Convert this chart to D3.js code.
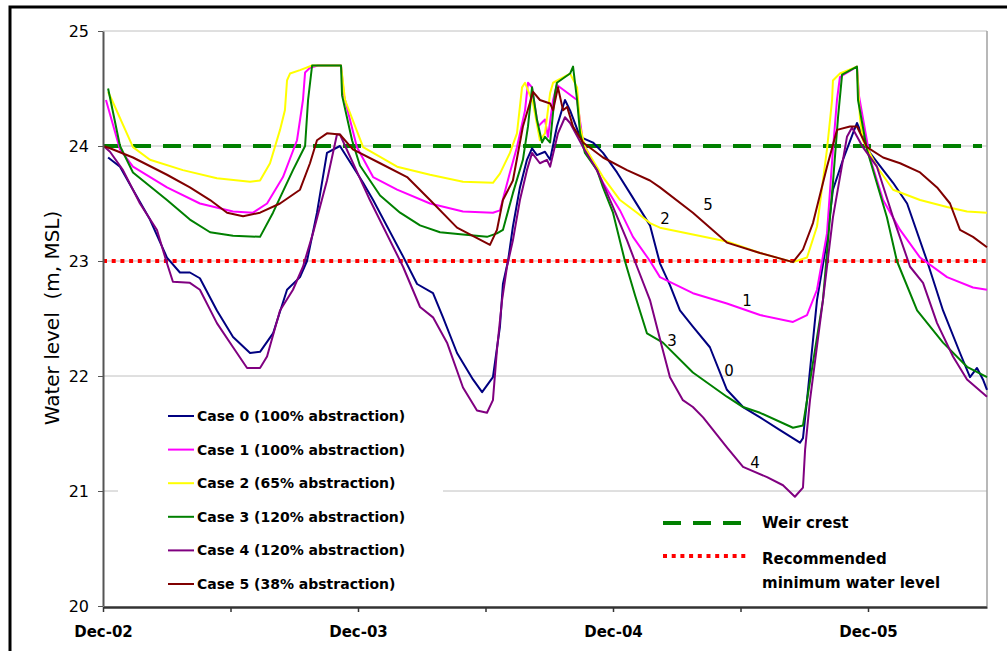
<!DOCTYPE html>
<html>
<head>
<meta charset="utf-8">
<script src="https://cdn.jsdelivr.net/npm/d3@7"></script>
<style>
  body { margin: 0; background: #fff; }
  text { font-family: "DejaVu Sans", Verdana, sans-serif; }
</style>
</head>
<body>
<div id="chart"></div>
<script>
// months counted from Dec-02, water level in m MSL
const case0 = [[0.24,23.9],[0.8,23.82],[1.41,23.62],[2.21,23.36],[3.01,23.03],[3.62,22.9],[4.09,22.9],[4.56,22.85],[5.36,22.57],[6.12,22.34],[6.92,22.2],[7.39,22.21],[8.0,22.37],[8.66,22.75],[9.27,22.86],[9.6,23.0],[10.07,23.42],[10.54,23.94],[11.15,24.0],[12.24,23.68],[12.71,23.53],[14.12,23.04],[14.78,22.8],[15.53,22.72],[16.0,22.51],[16.66,22.2],[17.41,21.97],[17.84,21.86],[18.35,21.99],[18.68,22.43],[18.82,22.8],[19.06,23.0],[19.29,23.3],[19.62,23.64],[19.95,23.88],[20.19,23.98],[20.42,23.92],[20.8,23.95],[21.04,23.88],[21.36,24.17],[21.74,24.4],[21.98,24.31],[22.45,24.08],[23.06,24.03],[23.53,23.94],[24.19,23.77],[24.8,23.59],[25.74,23.31],[26.21,22.98],[26.68,22.79],[27.15,22.57],[27.76,22.43],[28.56,22.25],[29.36,21.88],[30.12,21.73],[30.92,21.64],[31.86,21.53],[32.8,21.42],[32.94,21.46],[33.13,21.79],[33.6,22.66],[34.07,23.18],[34.35,23.62],[34.82,23.88],[35.29,24.11],[35.48,24.2],[36.09,23.94],[37.18,23.68],[37.84,23.5],[38.78,23.0],[39.53,22.57],[40.33,22.2],[40.8,21.99],[41.13,22.07],[41.41,21.97],[41.6,21.88]]

const case1 = [[0.14,24.4],[0.8,23.97],[1.41,23.82],[3.01,23.64],[4.56,23.5],[6.12,23.43],[7.06,23.42],[7.72,23.5],[8.47,23.73],[9.13,24.05],[9.41,24.4],[9.51,24.64],[9.74,24.68],[10.12,24.7],[11.2,24.7],[11.34,24.44],[11.62,24.23],[11.95,23.99],[12.71,23.73],[13.84,23.62],[15.39,23.5],[16.94,23.43],[18.35,23.42],[18.68,23.44],[19.15,23.77],[19.48,23.99],[19.86,24.31],[20.0,24.55],[20.19,24.51],[20.47,24.17],[20.8,24.23],[20.94,24.08],[21.18,24.4],[21.36,24.53],[22.31,24.4],[22.59,24.03],[23.53,23.68],[24.33,23.44],[24.94,23.21],[25.74,23.0],[26.21,22.86],[27.76,22.72],[29.36,22.63],[30.92,22.53],[32.47,22.47],[33.13,22.53],[33.6,22.75],[34.07,23.24],[34.35,23.97],[34.54,24.4],[34.68,24.6],[35.48,24.69],[35.58,24.43],[36.09,23.9],[36.71,23.53],[37.51,23.27],[38.45,23.03],[39.72,22.86],[40.94,22.77],[41.6,22.75]]

const case2 = [[0.24,24.47],[0.42,24.4],[1.41,23.99],[2.21,23.88],[3.76,23.79],[5.36,23.72],[6.92,23.69],[7.39,23.7],[7.86,23.85],[8.33,24.14],[8.56,24.31],[8.66,24.57],[8.8,24.63],[9.27,24.66],[9.84,24.7],[11.2,24.7],[11.39,24.4],[12.24,23.99],[13.84,23.82],[15.39,23.75],[16.94,23.69],[18.35,23.68],[18.68,23.76],[19.15,23.94],[19.48,24.11],[19.72,24.51],[19.86,24.55],[20.24,24.37],[20.56,24.05],[20.8,24.11],[21.04,24.46],[21.18,24.55],[21.98,24.63],[22.31,24.51],[22.45,24.17],[22.68,23.99],[23.53,23.73],[24.33,23.53],[25.13,23.42],[25.74,23.33],[26.21,23.29],[27.76,23.23],[29.36,23.17],[30.92,23.07],[32.47,22.99],[33.13,23.03],[33.6,23.3],[34.07,23.97],[34.31,24.4],[34.35,24.57],[34.68,24.63],[35.48,24.69],[35.62,24.25],[35.76,24.05],[36.42,23.82],[37.18,23.62],[38.45,23.53],[39.72,23.47],[40.66,23.43],[41.6,23.42]]

const case3 = [[0.24,24.5],[0.8,24.0],[1.41,23.77],[3.01,23.53],[4.09,23.36],[5.04,23.25],[6.12,23.22],[7.39,23.21],[8.0,23.42],[8.94,23.79],[9.51,24.0],[9.65,24.4],[9.84,24.7],[11.2,24.7],[11.25,24.44],[11.72,24.05],[12.09,23.83],[13.04,23.57],[13.98,23.42],[14.92,23.31],[15.86,23.25],[16.94,23.23],[18.07,23.21],[18.54,23.24],[18.82,23.27],[19.29,23.59],[19.76,23.88],[20.0,24.17],[20.19,24.51],[20.42,24.23],[20.66,24.03],[20.8,24.08],[21.04,24.03],[21.27,24.46],[21.36,24.55],[21.98,24.63],[22.12,24.69],[22.31,24.4],[22.45,24.11],[22.68,23.94],[23.25,23.79],[23.53,23.64],[24.0,23.42],[24.56,23.0],[25.04,22.7],[25.6,22.37],[26.35,22.29],[27.76,22.03],[29.36,21.82],[30.12,21.73],[30.92,21.68],[32.47,21.55],[32.94,21.57],[33.13,21.79],[33.88,22.66],[34.35,23.68],[34.59,24.25],[34.78,24.62],[35.48,24.69],[35.53,24.4],[35.95,23.97],[36.89,23.38],[37.36,23.0],[38.31,22.57],[39.53,22.29],[40.66,22.08],[41.6,21.99]]

const case4 = [[0.09,23.99],[0.33,23.95],[0.94,23.79],[1.74,23.5],[2.54,23.27],[3.01,22.98],[3.29,22.82],[4.09,22.81],[4.56,22.75],[5.36,22.46],[6.12,22.25],[6.78,22.07],[7.39,22.07],[7.72,22.17],[8.33,22.57],[8.94,22.75],[9.41,22.95],[9.88,23.24],[10.54,23.7],[11.01,24.1],[11.15,24.1],[12.56,23.53],[14.12,22.95],[14.92,22.6],[15.53,22.51],[16.19,22.29],[16.94,21.9],[17.6,21.7],[18.07,21.68],[18.35,21.79],[18.54,22.23],[18.78,22.66],[19.01,22.95],[19.29,23.18],[19.62,23.53],[19.95,23.79],[20.19,23.94],[20.56,23.85],[20.89,23.88],[21.04,23.82],[21.41,24.11],[21.74,24.25],[21.98,24.2],[22.59,23.99],[23.25,23.79],[24.0,23.47],[24.66,23.18],[25.13,22.95],[25.74,22.66],[26.31,22.25],[26.68,21.99],[27.29,21.79],[27.76,21.73],[28.24,21.64],[29.36,21.38],[30.12,21.21],[31.25,21.12],[32.0,21.05],[32.56,20.95],[32.94,21.03],[33.04,21.36],[33.27,21.79],[33.88,22.66],[34.35,23.38],[34.68,23.73],[35.01,24.08],[35.25,24.16],[35.76,23.99],[36.42,23.82],[37.18,23.38],[37.98,22.95],[38.59,22.81],[39.25,22.46],[40.0,22.17],[40.66,21.97],[41.6,21.82]]

const case5 = [[0.0,24.0],[0.33,23.98],[1.41,23.9],[3.01,23.75],[4.09,23.64],[5.04,23.53],[5.84,23.42],[6.59,23.39],[7.39,23.42],[8.33,23.5],[9.27,23.62],[9.74,23.85],[10.07,24.05],[10.54,24.11],[11.15,24.1],[11.76,23.97],[13.04,23.85],[14.31,23.73],[15.39,23.53],[16.66,23.29],[18.21,23.14],[18.54,23.27],[18.82,23.53],[19.29,23.7],[19.76,24.17],[20.24,24.47],[20.56,24.4],[21.04,24.37],[21.18,24.31],[21.41,24.51],[21.65,24.31],[21.84,24.34],[22.12,24.17],[22.59,24.03],[23.53,23.9],[24.66,23.79],[25.74,23.7],[26.21,23.64],[27.76,23.42],[29.36,23.16],[30.92,23.07],[32.47,22.99],[32.94,23.1],[33.41,23.33],[34.07,23.82],[34.54,24.14],[35.15,24.17],[35.48,24.17],[35.95,23.99],[36.71,23.9],[37.51,23.85],[38.45,23.77],[39.25,23.64],[39.86,23.5],[40.33,23.27],[40.94,23.21],[41.6,23.12]]

const series = [case0, case1, case2, case3, case4, case5]
const caseNames = ["Case 0 (100% abstraction)", "Case 1 (100% abstraction)", "Case 2 (65% abstraction)",
                   "Case 3 (120% abstraction)", "Case 4 (120% abstraction)", "Case 5 (38% abstraction)"]
const caseColors = ["#000080", "#ff00ff", "#ffff00", "#008000", "#800080", "#800000"]

// labels written next to the curves: [month, level, text]
const curveLabels = [[26.45,23.37,"2"],[28.47,23.49,"5"],[30.31,22.66,"1"],[26.78,22.31,"3"],[29.46,22.05,"0"],[30.68,21.25,"4"]]

const weirCrest = 24
const minLevel = 23
const yTicks = [20, 21, 22, 23, 24, 25]
const xTickMonths = [0, 6, 12, 18, 24, 30, 36]
const xTickLabels = ["Dec-02", "", "Dec-03", "", "Dec-04", "", "Dec-05"]
const xEndMonth = 41.6

//-----------------------Dimensions
let dimensions = {
  width: 1007,
  height: 651,
  left: 103,
  right: 987,
  top: 31,
  bottom: 606
}

const svg = d3.select("#chart")
  .append("svg")
  .attr("width", dimensions.width)
  .attr("height", dimensions.height)

// outer frame (cut off on the right and bottom)
svg.append("rect")
  .attr("x", 10).attr("y", 7)
  .attr("width", 1100).attr("height", 700)
  .attr("fill", "none")
  .attr("stroke", "#000")
  .attr("stroke-width", 3)

//-----------------------Scales
const xScale = d3.scaleLinear()
  .domain([0, xEndMonth])
  .range([dimensions.left, dimensions.right])

const yScale = d3.scaleLinear()
  .domain([20, 25])
  .range([dimensions.bottom, dimensions.top])

//-----------------------Gridlines + plot border
svg.append("g")
  .selectAll("line")
  .data(yTicks.filter(d => d > 20))
  .join("line")
  .attr("x1", dimensions.left)
  .attr("x2", dimensions.right)
  .attr("y1", d => yScale(d))
  .attr("y2", d => yScale(d))
  .attr("stroke", "#c0c0c0")
  .attr("stroke-width", 1)

svg.append("line")
  .attr("x1", dimensions.right).attr("x2", dimensions.right)
  .attr("y1", dimensions.top).attr("y2", dimensions.bottom)
  .attr("stroke", "#a0a0a0")
  .attr("stroke-width", 1.5)

//-----------------------Reference lines
svg.append("line")
  .attr("x1", xScale(0)).attr("x2", dimensions.right - 5)
  .attr("y1", yScale(weirCrest)).attr("y2", yScale(weirCrest))
  .attr("stroke", "#008000")
  .attr("stroke-width", 4)
  .attr("stroke-dasharray", "18,12")

svg.append("line")
  .attr("x1", xScale(0)).attr("x2", dimensions.right)
  .attr("y1", yScale(minLevel)).attr("y2", yScale(minLevel))
  .attr("stroke", "#ff0000")
  .attr("stroke-width", 4)
  .attr("stroke-dasharray", "4,4.7")

//-----------------------Legend 1 background (hides gridline)
svg.append("rect")
  .attr("x", 118).attr("y", 393)
  .attr("width", 325).attr("height", 208)
  .attr("fill", "#fff")

//-----------------------Lines
const lineGenerator = d3.line()
  .x(d => xScale(d[0]))
  .y(d => yScale(d[1]))

svg.append("g")
  .selectAll("path")
  .data(series)
  .join("path")
  .attr("d", d => lineGenerator(d))
  .attr("fill", "none")
  .attr("stroke", (d, i) => caseColors[i])
  .attr("stroke-width", 2)
  .attr("stroke-linejoin", "round")

//-----------------------Curve labels
svg.append("g")
  .selectAll("text")
  .data(curveLabels)
  .join("text")
  .attr("x", d => xScale(d[0]))
  .attr("y", d => yScale(d[1]))
  .attr("dy", "0.36em")
  .attr("text-anchor", "middle")
  .style("font-size", "15px")
  .style("fill", "#000")
  .text(d => d[2])

//-----------------------Axes
const yAxis = d3.axisLeft(yScale)
  .tickValues(yTicks)
  .tickFormat(d3.format("d"))
  .tickSizeInner(5)
  .tickSizeOuter(0)
  .tickPadding(9)

const yAxisG = svg.append("g")
  .attr("transform", `translate(${dimensions.left},0)`)
  .call(yAxis)
yAxisG.select(".domain").attr("stroke", "#555").attr("stroke-width", 2)
yAxisG.selectAll(".tick line").attr("stroke", "#555")
yAxisG.selectAll(".tick text")
  .style("font-size", "16px")
  .style("font-family", "DejaVu Sans")
  .attr("fill", "#000")

const xAxis = d3.axisBottom(xScale)
  .tickValues(xTickMonths)
  .tickFormat((d, i) => xTickLabels[i])
  .tickSizeInner(5)
  .tickSizeOuter(0)
  .tickPadding(14)

const xAxisG = svg.append("g")
  .attr("transform", `translate(0,${dimensions.bottom + 1})`)
  .call(xAxis)
xAxisG.select(".domain").attr("stroke", "#333").attr("stroke-width", 2.5)
xAxisG.selectAll(".tick line").attr("stroke", "#333").attr("stroke-width", 1.5)
xAxisG.selectAll(".tick text")
  .style("font-size", "15px")
  .style("font-weight", "bold")
  .style("font-family", "DejaVu Sans")
  .attr("fill", "#000")

// y axis title
svg.append("text")
  .attr("transform", "translate(59,318) rotate(-90)")
  .attr("text-anchor", "middle")
  .style("font-size", "20px")
  .style("white-space", "pre")
  .attr("xml:space", "preserve")
  .text("Water level  (m, MSL)")

//-----------------------Case legend
const legend = svg.append("g")
  .selectAll("g")
  .data(caseNames)
  .join("g")
  .attr("transform", (d, i) => `translate(0,${416 + i * 33.6})`)

legend.append("line")
  .attr("x1", 168).attr("x2", 194)
  .attr("stroke", (d, i) => caseColors[i])
  .attr("stroke-width", 2)

legend.append("text")
  .attr("x", 197)
  .attr("dy", "0.36em")
  .style("font-size", "14px")
  .style("font-weight", "bold")
  .text(d => d)

//-----------------------Reference legend
const refLegend = svg.append("g")

refLegend.append("line")
  .attr("x1", 663).attr("x2", 743)
  .attr("y1", 523).attr("y2", 523)
  .attr("stroke", "#008000")
  .attr("stroke-width", 4)
  .attr("stroke-dasharray", "18,12")

refLegend.append("text")
  .attr("x", 762).attr("y", 523)
  .attr("dy", "0.36em")
  .style("font-size", "15px")
  .style("font-weight", "bold")
  .text("Weir crest")

refLegend.append("line")
  .attr("x1", 663).attr("x2", 749)
  .attr("y1", 556).attr("y2", 556)
  .attr("stroke", "#ff0000")
  .attr("stroke-width", 4)
  .attr("stroke-dasharray", "4,4.7")

refLegend.append("text")
  .attr("x", 762).attr("y", 559)
  .attr("dy", "0.36em")
  .style("font-size", "15px")
  .style("font-weight", "bold")
  .text("Recommended")

refLegend.append("text")
  .attr("x", 762).attr("y", 583)
  .attr("dy", "0.36em")
  .style("font-size", "15px")
  .style("font-weight", "bold")
  .text("minimum water level")
</script>
</body>
</html>
